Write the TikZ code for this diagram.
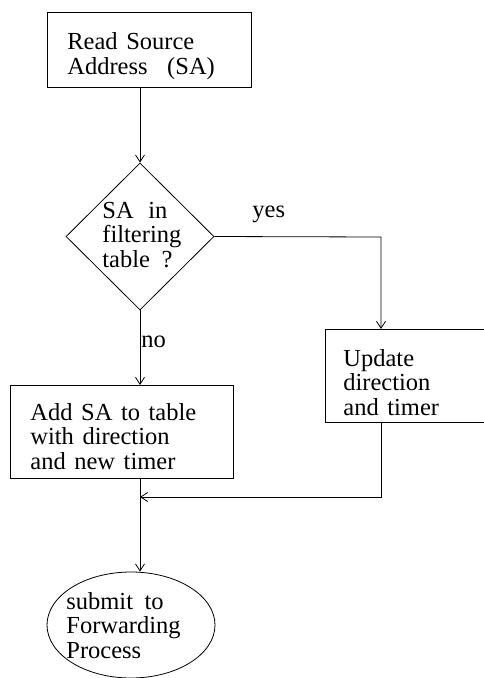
\documentclass[tikz,border=0pt]{standalone}
\usepackage{fontspec}
\setmainfont{Liberation Serif}[WordSpace=1.4]
\usetikzlibrary{arrows.meta,shapes.geometric}
\begin{document}
\begin{tikzpicture}[x=1pt,y=-1pt,line width=0.8pt,
  box/.style={draw,rectangle,inner sep=0pt,anchor=north west},
  lbl/.style={align=left,anchor=base west,inner sep=0pt,font=\fontsize{24.5}{24.5}\selectfont},
  flow/.style={-{Straight Barb[length=7pt,width=9pt]}}]
\useasboundingbox (0,0) rectangle (484,678);
% shapes
\node[box,minimum width=204pt,minimum height=75pt] (b1) at (47,12) {};
\node[diamond,draw,inner sep=0pt,minimum width=148pt,minimum height=147pt] (d) at (140,236.5) {};
\node[box,minimum width=200pt,minimum height=93pt] (b2) at (325,329) {};
\node[box,minimum width=223pt,minimum height=93pt] (b3) at (10,385) {};
\node[ellipse,draw,inner sep=0pt,minimum width=168pt,minimum height=106pt] (e) at (131,625) {};
% texts
\node[lbl] (t1) at (67,74) {Read Source\\Address\hspace{11pt} (SA)};
\node[lbl] (t2) at (102,267) {SA\hspace{6pt} in\\filtering\\table\hspace{3pt} ?};
\node[lbl] (yes) at (252,217) {yes};
\node[lbl] (no) at (141,347) {no};
\node[lbl] (t3) at (343,415) {Update\\direction\\and timer};
\node[lbl] (t4) at (30,469) {Add SA to table\\with direction\\and new timer};
\node[lbl] (t5) at (66,658) {submit\hspace{3pt} to\\Forwarding\\Process};
% connectors
\coordinate (yc) at (381,237);
\coordinate (m) at (381,497);
\draw[flow] (d.north |- b1.south) -- (d.north);
\draw[flow] (d.east) -- (yc) -- (yc |- b2.north);
\draw[flow] (d.south) -- (d.south |- b3.north);
\draw[flow] (m |- b2.south) -- (m) -- (d.south |- m);
\draw[flow] (d.south |- b3.south) -- (d.south |- e.north);
\end{tikzpicture}
\end{document}
